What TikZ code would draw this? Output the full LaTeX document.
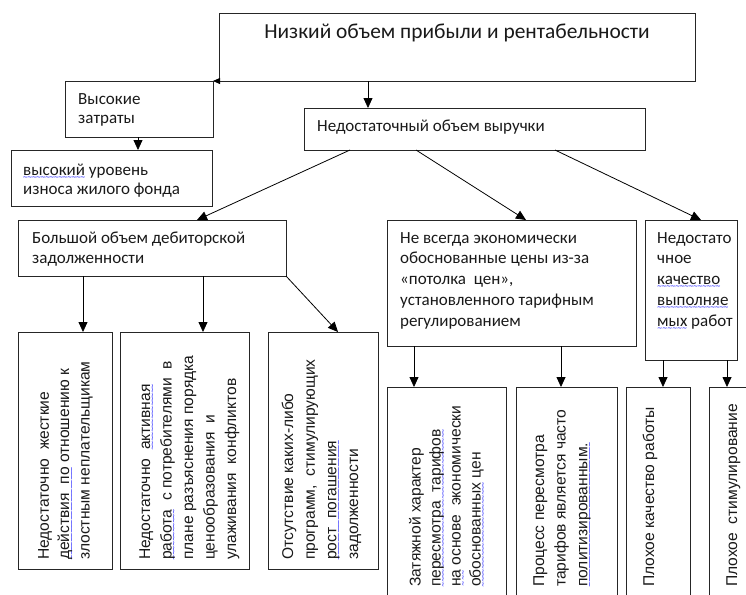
\documentclass[tikz,border=0pt]{standalone}
\usepackage{fontspec}
\setmainfont{Carlito}
\newfontfamily\rotfont{Liberation Sans}
\newfontfamily\wavefont{DejaVu Sans}
\usetikzlibrary{arrows.meta}
% blue wavy underline (spell-check style)
\newcommand\sq[1]{\setbox0=\hbox{#1}\rlap{\lower4.3pt\hbox to\wd0{\color{blue}\wavefont\fontsize{6.5}{6.5}\selectfont\xleaders\hbox{\kern-0.55pt ∼\kern-0.55pt}\hfill}}\box0\relax}

\begin{document}
\begin{tikzpicture}[x=1pt,y=-1pt,
  box/.style={draw=black!85, line width=0.9pt, inner sep=0pt, outer sep=0pt, anchor=north west},
  arr/.style={draw=black, line width=0.8pt, -{Triangle[length=10pt,width=9pt]}},
  txt/.style={anchor=base west, inner sep=0pt, align=left, text=black!90, font=\fontsize{17}{20.5}\selectfont},
  rtxt/.style={anchor=base west, inner sep=0pt, align=left, rotate=90, text=black!90, font=\rotfont\fontsize{15.6}{21.6}\selectfont},
]
\useasboundingbox (0,0) rectangle (746,594);
\clip (0,0) rectangle (746,594);

% boxes
\node[box, minimum width=476pt, minimum height=68pt]  (top)  at (219,13)  {};
\node[box, minimum width=148pt, minimum height=56pt]  (vys)  at (65,81)   {};
\node[box, minimum width=341pt, minimum height=42pt]  (ned)  at (304,108) {};
\node[box, minimum width=201pt, minimum height=56pt]  (izn)  at (11,150)  {};
\node[box, minimum width=268pt, minimum height=56pt]  (deb)  at (18,220)  {};
\node[box, minimum width=249pt, minimum height=126pt] (cen)  at (387,220) {};
\node[box, minimum width=92pt,  minimum height=140pt] (kach) at (645,220) {};
\node[box, minimum width=94pt,  minimum height=237pt] (ra)   at (18,332)  {};
\node[box, minimum width=129pt, minimum height=237pt] (rb)   at (120,332) {};
\node[box, minimum width=110pt, minimum height=237pt] (rc)   at (268,332) {};
\node[box, minimum width=119pt, minimum height=220pt] (rd)   at (387,387) {};
\node[box, minimum width=101pt, minimum height=220pt] (re)   at (516,387) {};
\node[box, minimum width=64pt,  minimum height=220pt] (rf)   at (626,387) {};
\node[box, minimum width=60pt,  minimum height=220pt] (rg)   at (709,387) {};

% horizontal texts (anchored at the baseline of their last line)
\node[txt, anchor=base, font=\fontsize{21.4}{25}\selectfont] (ttop) at (457,39) {Низкий объем прибыли и рентабельности};
\node[txt, font=\fontsize{17}{19.3}\selectfont] (tvys) at (78,123.3) {Высокие\\затраты};
\node[txt, font=\fontsize{17}{18.5}\selectfont] (tizn) at (23,194) {\sq{высокий} уровень\\износа жилого фонда};
\node[txt] (tned) at (317,131) {Недостаточный объем выручки};
\node[txt, font=\fontsize{17}{20}\selectfont] (tdeb) at (32,263) {Большой объем дебиторской\\задолженности};
\node[txt, font=\fontsize{17}{20.75}\selectfont] (tcen) at (400,326)
  {Не всегда экономически\\обоснованные цены из-за\\«потолка\ \ цен»,\\установленного тарифным\\регулированием};
\node[txt, font=\fontsize{17}{20.75}\selectfont] (tkach) at (657,326)
  {Недостато\\чное\\\sq{качество}\\\sq{выполняе}\\\sq{мых} работ};

% vertical texts (anchored at the baseline of their last line)
\node[rtxt, font=\rotfont\fontsize{15.6}{20.3}\selectfont] (tra) at (89.5,560)
  {Недостаточно\ \ жесткие\\\sq{действия\ \ по} отношению к\\злостным неплательщикам};
\node[rtxt, font=\rotfont\fontsize{15.6}{21.5}\selectfont] (trb) at (236,560)
  {Недостаточно\ \ \sq{активная}\\\sq{работа}\ \ с потребителями\ \ в\\плане разъяснения порядка\\ценообразования\ \ и\\улаживания\ \ конфликтов};
\node[rtxt] (trc) at (358,560)
  {Отсутствие каких-либо\\программ,\ \ стимулирующих\\\sq{рост\ \ погашения}\\задолженности};
\node[rtxt, font=\rotfont\fontsize{15.6}{20}\selectfont] (trd) at (480.7,587)
  {Затяжной характер\\\sq{пересмотра\ \ тарифов}\\\sq{на} основе\ \ экономически\\\sq{обоснованных} цен};
\node[rtxt] (tre) at (587.3,587)
  {Процесс пересмотра\\тарифов является часто\\\sq{политизированным.}};
\node[rtxt] (trf) at (654,587) {Плохое качество работы};
\node[rtxt] (trg) at (737,587) {Плохое\ \ стимулирование};

% connectors
\draw[arr, -{Triangle[length=7pt,width=6pt]}] (top.south west) -- (vys.north east);
\draw[arr] ([xshift=149pt]top.south west) -- ([xshift=64pt]ned.north west);
\draw[arr] ([xshift=73pt]vys.south west) -- ([xshift=127pt]izn.north west);
\draw[arr] ([xshift=46pt]ned.south west) -- ([xshift=179pt]deb.north west);
\draw[arr] ([xshift=112pt]ned.south west) -- ([xshift=139pt]cen.north west);
\draw[arr] ([xshift=251pt]ned.south west) -- ([xshift=56pt]kach.north west);
\draw[arr] ([xshift=65pt]deb.south west) -- ([xshift=65pt]ra.north west);
\draw[arr] ([xshift=185pt]deb.south west) -- ([xshift=83pt]rb.north west);
\draw[arr] (deb.south east) -- ([xshift=70pt]rc.north west);
\draw[arr] ([xshift=27pt]cen.south west) -- ([xshift=27pt]rd.north west);
\draw[arr] ([xshift=174pt]cen.south west) -- ([xshift=45pt]re.north west);
\draw[arr] ([xshift=18pt]kach.south west) -- ([xshift=37pt]rf.north west);
\draw[arr] ([xshift=82pt]kach.south west) -- ([xshift=18pt]rg.north west);
\end{tikzpicture}
\end{document}
